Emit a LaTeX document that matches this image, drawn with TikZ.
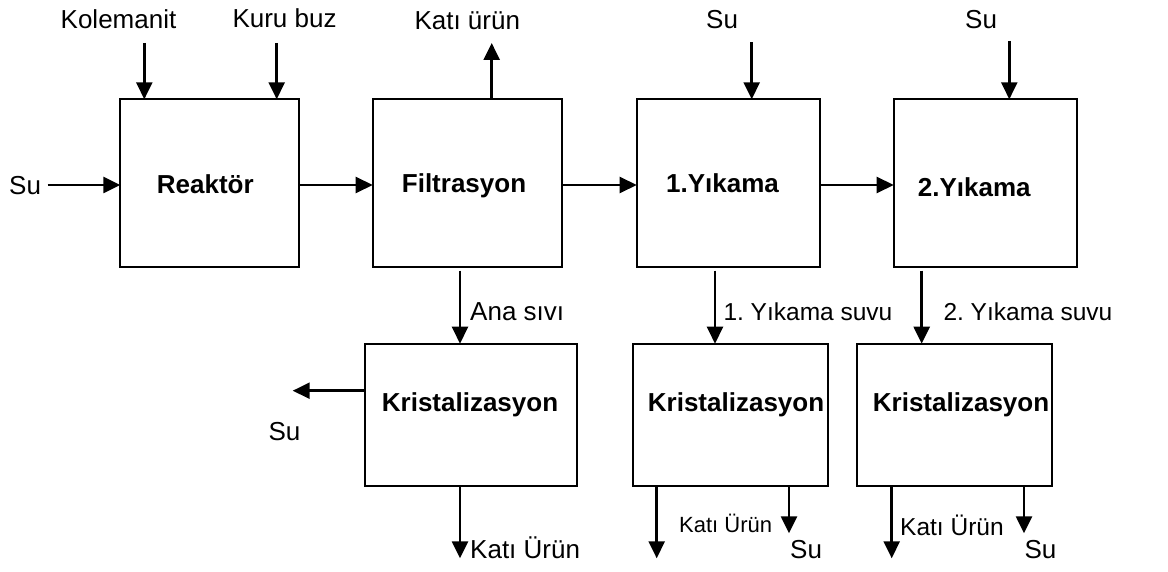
\documentclass[tikz,border=0pt]{standalone}
\usepackage{fontspec}
\setmainfont{Liberation Sans}
\usetikzlibrary{arrows.meta}
\frenchspacing
\begin{document}
\begin{tikzpicture}[x=1pt,y=-1pt,
  box/.style={draw,line width=2.2pt,inner sep=0pt,outer sep=0pt},
  lbl/.style={anchor=base west,inner sep=0pt,font=\fontsize{26}{30}\selectfont},
  lblm/.style={anchor=base west,inner sep=0pt,font=\fontsize{24.5}{29}\selectfont},
  lbls/.style={anchor=base west,inner sep=0pt,font=\fontsize{22}{26}\selectfont},
  blbl/.style={anchor=base west,inner sep=0pt,font=\fontsize{26}{30}\selectfont\bfseries},
  flow/.style={line width=2.5pt,-{Triangle[length=17pt,width=16pt]}}
]
\useasboundingbox (0,0) rectangle (1168,572);
% boxes
\node[box,minimum width=178.7pt,minimum height=167.4pt] (reak) at (209.65,183) {};
\node[box,minimum width=189.6pt,minimum height=167.4pt] (filt) at (467.5,183) {};
\node[box,minimum width=183pt,minimum height=167.4pt] (y1) at (728.2,183) {};
\node[box,minimum width=183pt,minimum height=167.4pt] (y2) at (985.2,183) {};
\node[box,minimum width=212pt,minimum height=142.6pt] (k1) at (471.3,415) {};
\node[box,minimum width=195.6pt,minimum height=142.6pt] (k2) at (730.5,415) {};
\node[box,minimum width=194.7pt,minimum height=142.6pt] (k3) at (954.35,415) {};
% box texts
\node[blbl] (treak) at (156.7,193.3) {Reaktör};
\node[blbl] (tfilt) at (401.7,192.7) {Filtrasyon};
\node[blbl] (ty1) at (666,192.7) {1.Yıkama};
\node[blbl] (ty2) at (917.7,196.7) {2.Yıkama};
\node[blbl] (tk1) at (381.7,411.7) {Kristalizasyon};
\node[blbl] (tk2) at (647.7,411.7) {Kristalizasyon};
\node[blbl] (tk3) at (872.7,411.7) {Kristalizasyon};
% stream labels
\node[lbl] (lkol) at (60.5,28.3) {Kolemanit};
\node[lbl] (lkb) at (232.3,27.7) {Kuru buz};
\node[lbl] (lsu0) at (9,195) {Su};
\node[lbl] (lkat) at (414.3,29.3) {Katı ürün};
\node[lbl] (lsu1) at (706,28.3) {Su};
\node[lbl] (lsu2) at (965,28.3) {Su};
\node[lbl] (lana) at (470,320) {Ana sıvı};
\node[lblm] (lys1) at (723.3,320) {1. Yıkama suvu};
\node[lblm] (lys2) at (943.3,320) {2. Yıkama suvu};
\node[lbl] (lk1su) at (268.3,440) {Su};
\node[lbl] (lk1kat) at (470,558.3) {Katı Ürün};
\node[lbls] (lk2kat) at (679,532.7) {Katı Ürün};
\node[lbl] (lk2su) at (790,558.3) {Su};
\node[lblm] (lk3kat) at (900,535) {Katı Ürün};
\node[lbl] (lk3su) at (1024.3,558.3) {Su};
% free ends
\coordinate (suin) at (47.7,185);
\coordinate (kol) at (144.3,43);
\coordinate (kb) at (276.7,43);
\coordinate (kat) at (491.7,43);
\coordinate (su1) at (751.7,42.5);
\coordinate (su2) at (1009.3,41);
\coordinate (f1) at (460,270.7);
\coordinate (k1su) at (292.7,390.7);
\coordinate (k1d) at (460,558.3);
\coordinate (y1d) at (715,270.7);
\coordinate (k2a) at (656.7,558.3);
\coordinate (k2b) at (789,533.3);
\coordinate (y2d) at (921.7,270.7);
\coordinate (k3a) at (891.7,558.3);
\coordinate (k3b) at (1024,533.3);
% connectors
\draw[flow] (suin) -- (suin -| reak.west);
\draw[flow] (kol) -- (kol |- reak.north);
\draw[flow] (kb) -- (kb |- reak.north);
\draw[flow] ([yshift=-2pt]reak.east) -- ([yshift=-2pt]filt.west);
\draw[flow] (kat |- filt.north) -- (kat);
\draw[flow] ([yshift=-2pt]filt.east) -- ([yshift=-2pt]y1.west);
\draw[flow] (su1) -- (su1 |- y1.north);
\draw[flow] ([yshift=-2pt]y1.east) -- ([yshift=-2pt]y2.west);
\draw[flow] (su2) -- (su2 |- y2.north);
\draw[flow] (f1) -- (f1 |- k1.north);
\draw[flow] (k1su -| k1.west) -- (k1su);
\draw[flow] (k1d |- k1.south) -- (k1d);
\draw[flow] (y1d) -- (y1d |- k2.north);
\draw[flow] (k2a |- k2.south) -- (k2a);
\draw[flow] (k2b |- k2.south) -- (k2b);
\draw[flow] (y2d) -- (y2d |- k3.north);
\draw[flow] (k3a |- k3.south) -- (k3a);
\draw[flow] (k3b |- k3.south) -- (k3b);
\end{tikzpicture}
\end{document}
